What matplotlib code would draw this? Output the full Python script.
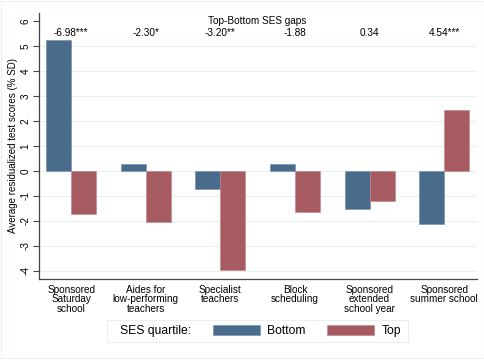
import matplotlib
matplotlib.use("Agg")
import matplotlib.pyplot as plt
import numpy as np
from matplotlib.patches import Rectangle

categories = ["Sponsored\nSaturday\nschool", "Aides for\nlow-performing\nteachers",
              "Specialist\nteachers", "Block\nscheduling",
              "Sponsored\nextended\nschool year", "Sponsored\nsummer school"]
bottom_vals = [5.25, 0.28, -0.73, 0.27, -1.53, -2.12]
top_vals = [-1.72, -2.05, -3.96, -1.64, -1.19, 2.43]
gap_labels = ["-6.98***", "-2.30*", "-3.20**", "-1.88", "0.34", "4.54***"]
yticks = [-4, -3, -2, -1, 0, 1, 2, 3, 4, 5, 6]

plt.rcParams['font.family'] = ['Liberation Sans', 'DejaVu Sans']

blue = "#496b8c"
red = "#a65b60"
grid_c = "#e8f0f2"

fig = plt.figure(figsize=(4.85, 3.6), dpi=100)
fig.patch.set_facecolor("white")
ax = fig.add_axes([0.0804, 0.225, 0.9031, 0.739])

x = np.arange(len(categories))
w = 0.335
ax.bar(x - w/2, bottom_vals, w, color=blue, edgecolor="#6f8ca8", linewidth=0.4, zorder=3, label="Bottom")
ax.bar(x + w/2, top_vals, w, color=red, edgecolor="#c08488", linewidth=0.4, zorder=3, label="Top")

ax.set_xlim(-0.43, 5.44)
ax.set_ylim(-4.32, 6.32)
ax.set_yticks(yticks)
ax.set_yticklabels([str(t) for t in yticks], rotation=90, va="center", fontsize=7.2)
for t in yticks[:-1]:
    ax.axhline(t, color=grid_c, linewidth=0.8, zorder=1)
ax.set_xticks(x)
ax.set_xticklabels(categories, fontsize=7.2, linespacing=0.95)
ax.tick_params(axis="x", length=0, pad=4)
ax.tick_params(axis="y", length=4, width=0.8, color="#444444", pad=2)
for s in ["top", "right"]:
    ax.spines[s].set_visible(False)
for s in ["left", "bottom"]:
    ax.spines[s].set_color("#444444")
    ax.spines[s].set_linewidth(0.9)
ax.set_ylabel("Average residualized test scores (% SD)", fontsize=7, labelpad=2)

ax.text(2.5, 6.0, "Top-Bottom SES gaps", ha="center", va="center", fontsize=7.2)
for i, g in enumerate(gap_labels):
    ax.text(x[i], 5.5, g, ha="center", va="center", fontsize=7.2)

# legend
lx0, ly0, lx1, ly1 = 107/485, 1-342/360, 408/485, 1-320/360
fig.patches.append(Rectangle((lx0, ly0), lx1-lx0, ly1-ly0, transform=fig.transFigure,
                             facecolor="white", edgecolor=grid_c, linewidth=0.8))
fig.text(120/485, (ly0+ly1)/2, "SES quartile:", fontsize=8.7, va="center", ha="left")
h, l = ax.get_legend_handles_labels()
leg = fig.legend(h, l, ncol=2, frameon=False, fontsize=8.7, handlelength=3.85,
                 handleheight=0.95, handletextpad=0.65, columnspacing=1.8,
                 borderpad=0, borderaxespad=0,
                 loc="center left", bbox_to_anchor=(213/485, (ly0+ly1)/2))

# outer graph region border lines
fig.patches.append(Rectangle((0.002, 0.006), 0.996, 0.99, transform=fig.transFigure,
                             facecolor="none", edgecolor=grid_c, linewidth=0.8))

fig.savefig("out.png", dpi=100)
